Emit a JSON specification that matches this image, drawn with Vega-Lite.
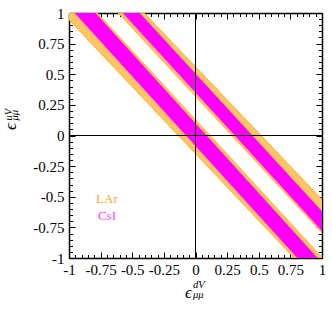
{
  "$schema": "https://vega.github.io/schema/vega-lite/v6.json",
  "width": 253,
  "height": 245,
  "autosize": {"type": "none"},
  "padding": {"left": 69, "top": 13, "right": 10, "bottom": 54},
  "datasets": {
    "bands": [
      {"exp": "LAr", "band": "lower", "y": 1, "xlo": -1.05, "xhi": -0.776},
      {"exp": "LAr", "band": "lower", "y": -1, "xlo": 0.78, "xhi": 1.005},
      {"exp": "LAr", "band": "upper", "y": 1, "xlo": -0.61, "xhi": -0.405},
      {"exp": "LAr", "band": "upper", "y": -1, "xlo": 1.185, "xhi": 1.44},
      {"exp": "CsI", "band": "lower", "y": 1, "xlo": -0.955, "xhi": -0.79},
      {"exp": "CsI", "band": "lower", "y": -1, "xlo": 0.805, "xhi": 0.965},
      {"exp": "CsI", "band": "upper", "y": 1, "xlo": -0.575, "xhi": -0.44},
      {"exp": "CsI", "band": "upper", "y": -1, "xlo": 1.195, "xhi": 1.34}
    ],
    "labels": [
      {"name": "LAr", "x": -0.70, "y": -0.518},
      {"name": "CsI", "x": -0.70, "y": -0.657}
    ]
  },
  "resolve": {"axis": {"x": "independent", "y": "independent"}},
  "layer": [
    {
      "data": {"name": "bands"},
      "transform": [{"filter": "datum.exp === 'LAr' && datum.band === 'lower'"}],
      "mark": {"type": "area", "orient": "horizontal", "clip": true, "fill": "#ffc562", "stroke": "#ffab2e", "strokeWidth": 1},
      "encoding": {
        "y": {"field": "y", "type": "quantitative", "scale": {"domain": [-1, 1], "nice": false, "zero": false},
          "axis": {"orient": "left", "values": [-1, -0.75, -0.5, -0.25, 0, 0.25, 0.5, 0.75, 1], "tickSize": -6, "labelPadding": 11, "labelFontSize": 15, "domainWidth": 1.5,
            "title": "ϵ", "titleFontSize": 17, "titleFontStyle": "italic", "titleAngle": -90, "titleAlign": "center", "titleBaseline": "alphabetic", "titleX": -54, "titleY": 113}},
        "x": {"field": "xlo", "type": "quantitative", "scale": {"domain": [-1, 1], "nice": false, "zero": false},
          "axis": {"orient": "bottom", "values": [-1, -0.75, -0.5, -0.25, 0, 0.25, 0.5, 0.75, 1], "tickSize": -6, "labelPadding": 10, "labelFontSize": 15, "domainWidth": 1.5,
            "title": "ϵ", "titleFontSize": 17, "titleFontStyle": "italic", "titleAngle": 0, "titleAlign": "center", "titleBaseline": "alphabetic", "titleX": 119, "titleY": 39}},
        "x2": {"field": "xhi"}
      }
    },
    {
      "data": {"name": "bands"},
      "transform": [{"filter": "datum.exp === 'LAr' && datum.band === 'upper'"}],
      "mark": {"type": "area", "orient": "horizontal", "clip": true, "fill": "#ffc562", "stroke": "#ffab2e", "strokeWidth": 1},
      "encoding": {
        "y": {"field": "y", "type": "quantitative", "scale": {"domain": [-1, 1], "nice": false, "zero": false},
          "axis": {"orient": "left", "values": [-1, -0.95, -0.9, -0.85, -0.8, -0.75, -0.7, -0.65, -0.6, -0.55, -0.5, -0.45, -0.4, -0.35, -0.3, -0.25, -0.2, -0.15, -0.1, -0.05, 0, 0.05, 0.1, 0.15, 0.2, 0.25, 0.3, 0.35, 0.4, 0.45, 0.5, 0.55, 0.6, 0.65, 0.7, 0.75, 0.8, 0.85, 0.9, 0.95, 1], "tickSize": -3.5, "labels": false, "domain": false,
            "title": "uV", "titleFontSize": 10.5, "titleFontStyle": "italic", "titleAngle": -90, "titleAlign": "left", "titleBaseline": "alphabetic", "titleX": -57.5, "titleY": 107}},
        "x": {"field": "xlo", "type": "quantitative", "scale": {"domain": [-1, 1], "nice": false, "zero": false},
          "axis": {"orient": "bottom", "values": [-1, -0.95, -0.9, -0.85, -0.8, -0.75, -0.7, -0.65, -0.6, -0.55, -0.5, -0.45, -0.4, -0.35, -0.3, -0.25, -0.2, -0.15, -0.1, -0.05, 0, 0.05, 0.1, 0.15, 0.2, 0.25, 0.3, 0.35, 0.4, 0.45, 0.5, 0.55, 0.6, 0.65, 0.7, 0.75, 0.8, 0.85, 0.9, 0.95, 1], "tickSize": -3.5, "labels": false, "domain": false,
            "title": "dV", "titleFontSize": 10.5, "titleFontStyle": "italic", "titleAngle": 0, "titleAlign": "left", "titleBaseline": "alphabetic", "titleX": 123.5, "titleY": 29.5}},
        "x2": {"field": "xhi"}
      }
    },
    {
      "data": {"name": "bands"},
      "transform": [{"filter": "datum.exp === 'CsI' && datum.band === 'lower'"}],
      "mark": {"type": "area", "orient": "horizontal", "clip": true, "fill": "#ff00ff"},
      "encoding": {
        "y": {"field": "y", "type": "quantitative", "scale": {"domain": [-1, 1], "nice": false, "zero": false},
          "axis": {"orient": "left", "ticks": false, "labels": false, "domain": false,
            "title": "μμ", "titleFontSize": 10.5, "titleFontStyle": "italic", "titleAngle": -90, "titleAlign": "left", "titleBaseline": "alphabetic", "titleX": -52, "titleY": 107}},
        "x": {"field": "xlo", "type": "quantitative", "scale": {"domain": [-1, 1], "nice": false, "zero": false},
          "axis": {"orient": "bottom", "ticks": false, "labels": false, "domain": false,
            "title": "μμ", "titleFontSize": 10.5, "titleFontStyle": "italic", "titleAngle": 0, "titleAlign": "left", "titleBaseline": "alphabetic", "titleX": 123.5, "titleY": 39.5}},
        "x2": {"field": "xhi"}
      }
    },
    {
      "data": {"name": "bands"},
      "transform": [{"filter": "datum.exp === 'CsI' && datum.band === 'upper'"}],
      "mark": {"type": "area", "orient": "horizontal", "clip": true, "fill": "#ff00ff"},
      "encoding": {
        "y": {"field": "y", "type": "quantitative", "scale": {"domain": [-1, 1], "nice": false, "zero": false},
          "axis": {"orient": "right", "values": [-1, -0.75, -0.5, -0.25, 0, 0.25, 0.5, 0.75, 1], "tickSize": -6, "labels": false, "domainWidth": 1.5, "title": null}},
        "x": {"field": "xlo", "type": "quantitative", "scale": {"domain": [-1, 1], "nice": false, "zero": false},
          "axis": {"orient": "top", "values": [-1, -0.75, -0.5, -0.25, 0, 0.25, 0.5, 0.75, 1], "tickSize": -6, "labels": false, "domainWidth": 1.5, "title": null}},
        "x2": {"field": "xhi"}
      }
    },
    {
      "data": {"name": "labels"},
      "mark": {"type": "text", "font": "Liberation Serif", "fontSize": 13, "align": "center", "baseline": "middle"},
      "encoding": {
        "y": {"field": "y", "type": "quantitative", "scale": {"domain": [-1, 1], "nice": false, "zero": false},
          "axis": {"orient": "right", "values": [-1, -0.95, -0.9, -0.85, -0.8, -0.75, -0.7, -0.65, -0.6, -0.55, -0.5, -0.45, -0.4, -0.35, -0.3, -0.25, -0.2, -0.15, -0.1, -0.05, 0, 0.05, 0.1, 0.15, 0.2, 0.25, 0.3, 0.35, 0.4, 0.45, 0.5, 0.55, 0.6, 0.65, 0.7, 0.75, 0.8, 0.85, 0.9, 0.95, 1], "tickSize": -3.5, "labels": false, "domain": false, "title": null}},
        "x": {"field": "x", "type": "quantitative", "scale": {"domain": [-1, 1], "nice": false, "zero": false},
          "axis": {"orient": "top", "values": [-1, -0.95, -0.9, -0.85, -0.8, -0.75, -0.7, -0.65, -0.6, -0.55, -0.5, -0.45, -0.4, -0.35, -0.3, -0.25, -0.2, -0.15, -0.1, -0.05, 0, 0.05, 0.1, 0.15, 0.2, 0.25, 0.3, 0.35, 0.4, 0.45, 0.5, 0.55, 0.6, 0.65, 0.7, 0.75, 0.8, 0.85, 0.9, 0.95, 1], "tickSize": -3.5, "labels": false, "domain": false, "title": null}},
        "text": {"field": "name"},
        "color": {"field": "name", "type": "nominal", "scale": {"domain": ["LAr", "CsI"], "range": ["#ffa528", "#ff44ff"]}, "legend": null}
      }
    },
    {
      "data": {"values": [{"x": 0}]},
      "mark": {"type": "rule", "color": "black", "strokeWidth": 1},
      "encoding": {
        "x": {"field": "x", "type": "quantitative", "scale": {"domain": [-1, 1], "nice": false, "zero": false}, "axis": null}
      }
    },
    {
      "data": {"values": [{"y": 0}]},
      "mark": {"type": "rule", "color": "black", "strokeWidth": 1},
      "encoding": {
        "y": {"field": "y", "type": "quantitative", "scale": {"domain": [-1, 1], "nice": false, "zero": false}, "axis": null}
      }
    }
  ],
  "config": {
    "view": {"stroke": null},
    "axis": {
      "grid": false,
      "domainColor": "black",
      "tickColor": "black",
      "tickWidth": 1,
      "labelColor": "black",
      "titleColor": "black",
      "titleFontWeight": "normal",
      "labelFont": "Liberation Serif",
      "titleFont": "Liberation Serif",
      "labelOverlap": false,
      "labelFlush": false,
      "labelExpr": "'' + datum.value"
    }
  }
}
